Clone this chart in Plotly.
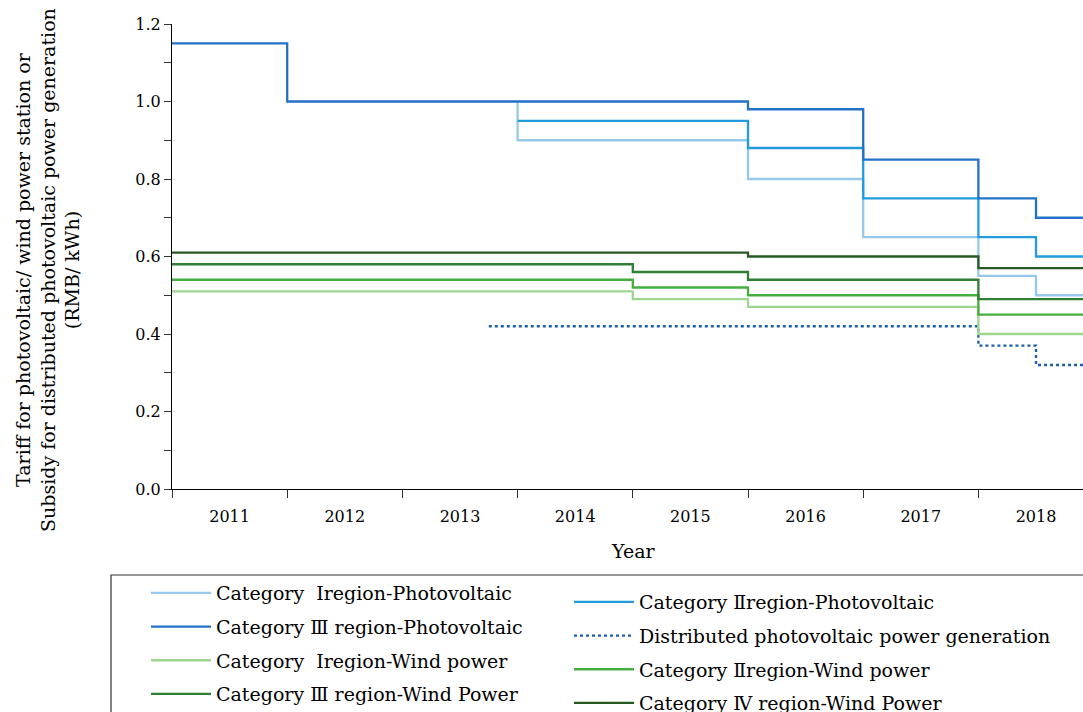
import plotly.graph_objects as go

# ---- data (years as continuous axis, steps start at beginning of year) ----
pv_cat1_x = [2014, 2014, 2016, 2017, 2018, 2018.5, 2019]
pv_cat1_y = [1.00, 0.90, 0.80, 0.65, 0.55, 0.50, 0.50]
pv_cat2_x = [2014, 2016, 2017, 2018, 2018.5, 2019]
pv_cat2_y = [0.95, 0.88, 0.75, 0.65, 0.60, 0.60]
pv_cat3_x = [2011, 2012, 2016, 2017, 2018, 2018.5, 2019]
pv_cat3_y = [1.15, 1.00, 0.98, 0.85, 0.75, 0.70, 0.70]
dist_x = [2013.75, 2018, 2018.5, 2019]
dist_y = [0.42, 0.37, 0.32, 0.32]
wind_x = [2011, 2015, 2016, 2018, 2019]
wind_cat1_y = [0.51, 0.49, 0.47, 0.40, 0.40]
wind_cat2_y = [0.54, 0.52, 0.50, 0.45, 0.45]
wind_cat3_y = [0.58, 0.56, 0.54, 0.49, 0.49]
wind_cat4_x = [2011, 2016, 2018, 2019]
wind_cat4_y = [0.61, 0.60, 0.57, 0.57]

year_labels = ["2011", "2012", "2013", "2014", "2015", "2016", "2017", "2018"]
year_centers = [2011.5, 2012.5, 2013.5, 2014.5, 2015.5, 2016.5, 2017.5, 2018.5]
year_bounds = [2011, 2012, 2013, 2014, 2015, 2016, 2017, 2018]

FONT = "DejaVu Serif"

series = [
    ("Category  Ⅰregion-Photovoltaic", pv_cat1_x, pv_cat1_y, "#96c8ec", "solid", "legend"),
    ("Category Ⅱregion-Photovoltaic", pv_cat2_x, pv_cat2_y, "#229bdc", "solid", "legend2"),
    ("Category Ⅲ region-Photovoltaic", pv_cat3_x, pv_cat3_y, "#2272c8", "solid", "legend"),
    ("Distributed photovoltaic power generation", dist_x, dist_y, "#1c5ea8", "dot", "legend2"),
    ("Category  Ⅰregion-Wind power", wind_x, wind_cat1_y, "#9fd68f", "solid", "legend"),
    ("Category Ⅱregion-Wind power", wind_x, wind_cat2_y, "#45ae3f", "solid", "legend2"),
    ("Category Ⅲ region-Wind Power", wind_x, wind_cat3_y, "#2f7f32", "solid", "legend"),
    ("Category Ⅳ region-Wind Power", wind_cat4_x, wind_cat4_y, "#265a22", "solid", "legend2"),
]

fig = go.Figure()
for i, (name, xs, ys, color, dash, lg) in enumerate(series):
    fig.add_trace(go.Scatter(
        x=xs, y=ys, name=name, mode="lines",
        line=dict(shape="hv", color=color, width=2.3, dash=dash),
        legend=lg, legendgroup="g%d" % i, hoverinfo="skip",
    ))

W, H = 1083, 712
L, T, B = 172, 24, 489
pw = W - L
ph = B - T

def px_x(p):
    return (p - L) / pw

def px_y(p):
    return (B - p) / ph

fig.update_layout(
    width=W, height=H,
    margin=dict(l=L, r=0, t=T, b=H - B, autoexpand=False),
    paper_bgcolor="white", plot_bgcolor="white",
    font=dict(family=FONT, color="black", size=16),
    showlegend=True,
    legend=dict(x=px_x(146), y=px_y(574), xanchor="left", yanchor="top",
                font=dict(family=FONT, size=19, color="black"),
                bgcolor="rgba(0,0,0,0)", tracegroupgap=6, itemwidth=60,
                orientation="v"),
    legend2=dict(x=px_x(569), y=px_y(583), xanchor="left", yanchor="top",
                 font=dict(family=FONT, size=19, color="black"),
                 bgcolor="rgba(0,0,0,0)", tracegroupgap=6, itemwidth=60,
                 orientation="v"),
    xaxis=dict(
        range=[2011, 2011 + pw / 115.2],
        showline=True, linecolor="black", linewidth=1,
        showgrid=False, zeroline=False,
        tickmode="array", tickvals=year_centers, ticktext=year_labels,
        ticks="outside", ticklen=8, tickcolor="rgba(0,0,0,0)",
        ticklabelstandoff=5,
        tickfont=dict(family=FONT, size=16, color="black"),
        minor=dict(tickmode="array", tickvals=year_bounds, ticks="outside",
                   ticklen=8, tickcolor="#333", tickwidth=1, showgrid=False),
    ),
    yaxis=dict(
        range=[0, 1.2],
        showline=True, linecolor="black", linewidth=1,
        showgrid=False, zeroline=False,
        tickmode="array", tickvals=[0, 0.2, 0.4, 0.6, 0.8, 1.0, 1.2],
        tickformat=".1f",
        ticks="outside", ticklen=7, tickcolor="#333",
        tickfont=dict(family=FONT, size=16, color="black"),
        minor=dict(dtick=0.1, ticks="outside", ticklen=7, tickcolor="#333", showgrid=False),
    ),
)

# legend frame
fig.add_shape(type="rect", xref="paper", yref="paper",
              x0=px_x(111), x1=px_x(1100), y0=px_y(575), y1=px_y(760),
              line=dict(color="#333", width=1.2), fillcolor="rgba(0,0,0,0)", layer="below")

# axis titles
fig.add_annotation(
    text="Tariff for photovoltaic/ wind power station or<br>Subsidy for distributed photovoltaic power generation<br>(RMB/ kWh)",
    xref="paper", yref="paper", x=px_x(47), y=px_y(270), xanchor="center", yanchor="middle",
    textangle=-90, showarrow=False, font=dict(family=FONT, size=19, color="black"))
fig.add_annotation(text="Year", xref="x", yref="paper", x=2015, y=px_y(551),
                   xanchor="center", yanchor="middle", showarrow=False,
                   font=dict(family=FONT, size=19, color="black"))

fig.write_html("out.html", config={"displayModeBar": False},
               post_script="document.body.style.margin='0';document.body.style.overflow='hidden';")
